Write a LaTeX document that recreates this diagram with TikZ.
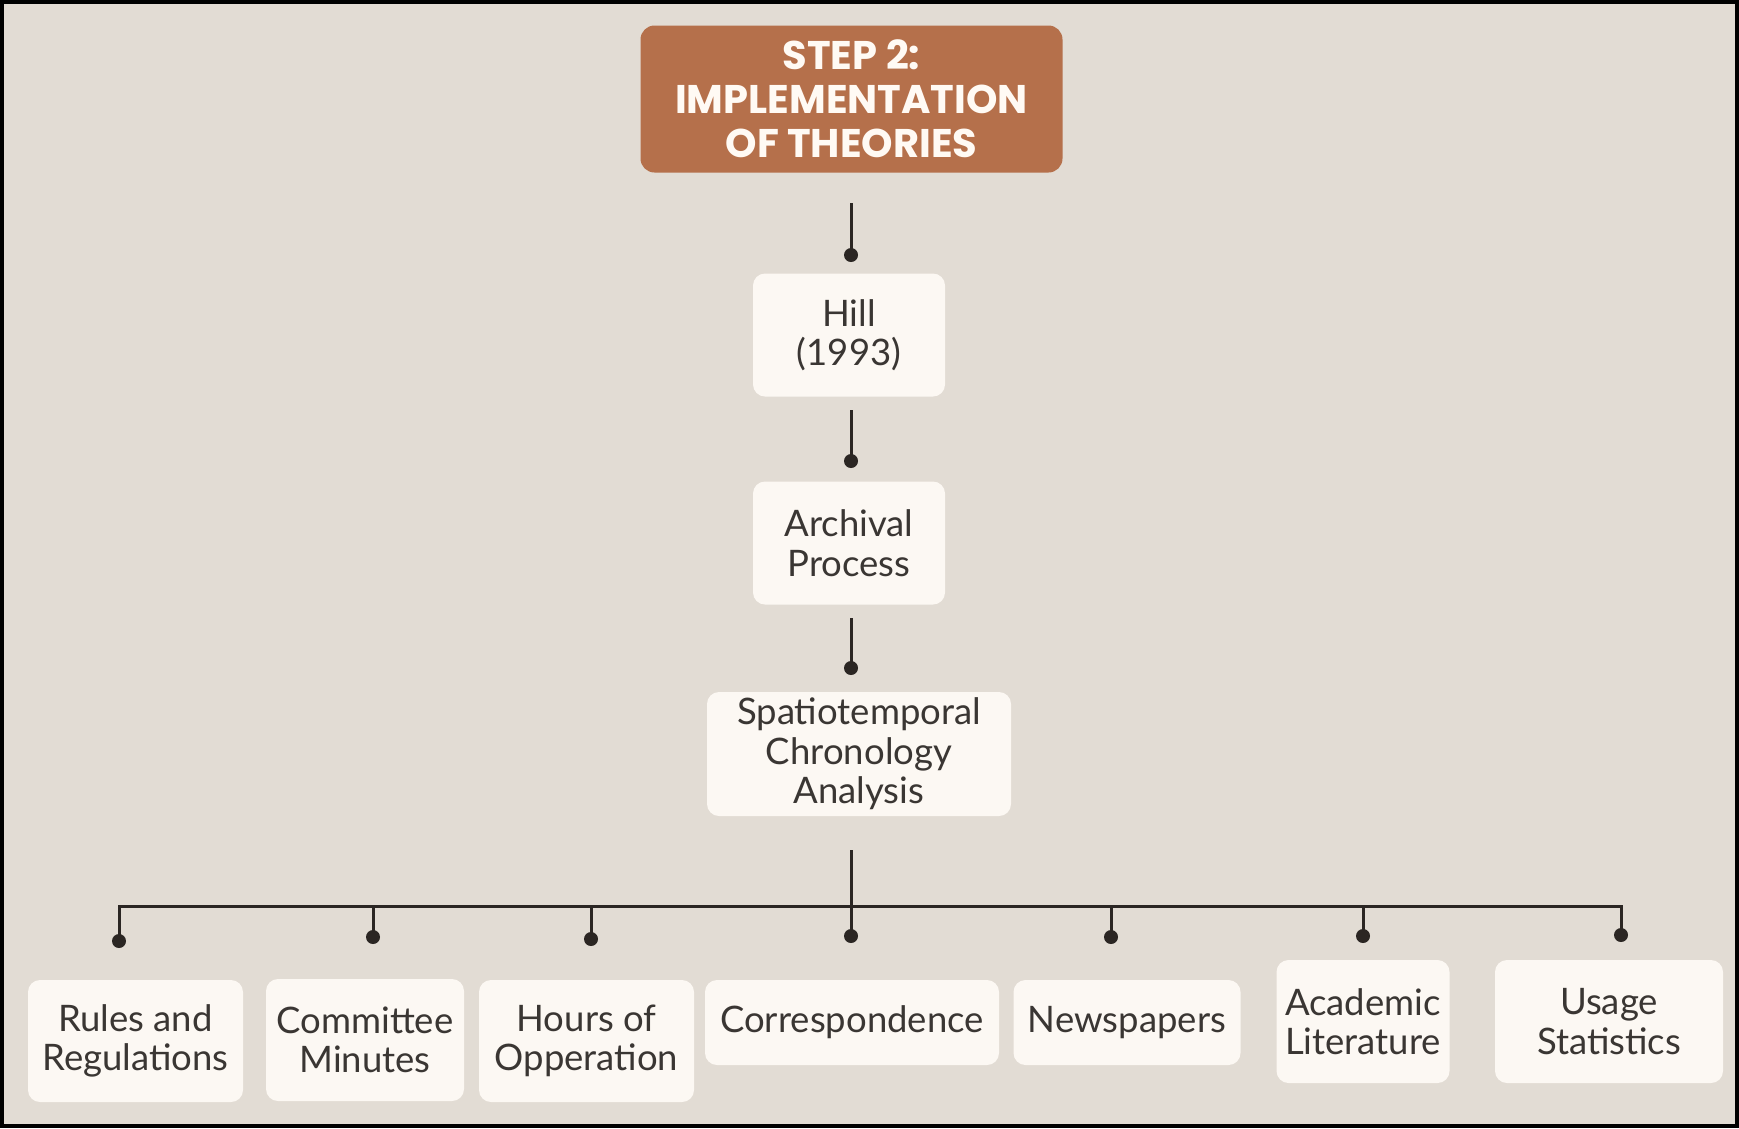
\documentclass[tikz,border=0pt]{standalone}
\usepackage{fontspec}
\newfontfamily\bodyfont{Lato}
\newfontfamily\titlefont{Poppins}

\definecolor{paper}{RGB}{226,220,212}
\definecolor{cardfill}{RGB}{252,248,243}
\definecolor{rust}{RGB}{181,112,75}
\definecolor{ink}{RGB}{43,38,35}
\definecolor{txt}{RGB}{58,54,51}
\definecolor{headtxt}{RGB}{255,250,244}

\tikzset{
  card/.style={rectangle, rounded corners=12pt, fill=cardfill, text=txt,
    font=\bodyfont\fontsize{36.5}{39.5}\selectfont, align=center, inner sep=0pt},
  head/.style={rectangle, rounded corners=14pt, fill=rust, text=headtxt,
    font=\titlefont\bfseries\fontsize{40}{44}\selectfont, align=center, inner sep=0pt},
  wire/.style={draw=ink, line width=3pt},
  pin/.style={circle, fill=ink, inner sep=0pt, minimum size=14pt}
}

\begin{document}
\begin{tikzpicture}[x=1pt, y=-1pt]
  % page background and frame
  \fill[paper] (0,0) rectangle (1739,1128);
  \draw[line width=4pt, black] (2,2) rectangle (1737,1126);
  \useasboundingbox (0,0) rectangle (1739,1128);

  % heading
  \node[head, minimum width=422pt, minimum height=147pt] (title) at (851.5,99)
    {STEP 2:\\IMPLEMENTATION\\OF THEORIES};

  % central chain
  \node[card, minimum width=192pt, minimum height=123pt] (hill) at (849,335) {Hill\\(1993)};
  \node[card, minimum width=192pt, minimum height=123pt] (arch) at (849,543) {Archival\\Process};
  \node[card, minimum width=304pt, minimum height=124pt] (spat) at (859,754)
    {Spatiotemporal\\Chronology\\Analysis};

  % sources
  \node[card, minimum width=215pt, minimum height=122pt] (rules) at (135.5,1041) {Rules and\\Regulations};
  \node[card, minimum width=198pt, minimum height=122pt] (comm)  at (365,1040) {Committee\\Minutes};
  \node[card, minimum width=215pt, minimum height=122pt] (hours) at (586.5,1041) {Hours of\\Opperation};
  \node[card, minimum width=294pt, minimum height=85pt]  (corr)  at (852,1022.5) {Correspondence};
  \node[card, minimum width=227pt, minimum height=85pt]  (news)  at (1127,1022.5) {Newspapers};
  \node[card, minimum width=173pt, minimum height=123pt] (acad)  at (1363,1021.5) {Academic\\Literature};
  \node[card, minimum width=228pt, minimum height=123pt] (usage) at (1609,1021.5) {Usage\\Statistics};

  % connector start points and pins
  \coordinate (s1) at (851,203);
  \coordinate (s2) at (851,410);
  \coordinate (s3) at (851,618);
  \coordinate (hub) at (851,850);
  \coordinate (busY) at (851,906);
  \node[pin] (p1) at (851,255) {};
  \node[pin] (p2) at (851,461) {};
  \node[pin] (p3) at (851,668) {};
  \node[pin] (pR) at (119,941) {};
  \node[pin] (pM) at (373,937) {};
  \node[pin] (pH) at (591,939) {};
  \node[pin] (pC) at (851,936) {};
  \node[pin] (pN) at (1111,937) {};
  \node[pin] (pA) at (1363,936) {};
  \node[pin] (pU) at (1621,935) {};

  % connectors
  \draw[wire] (s1) -- (p1.center);
  \draw[wire] (s2) -- (p2.center);
  \draw[wire] (s3) -- (p3.center);
  \draw[wire] (hub) -- (pC.center);
  \draw[wire] (pR.center) -- (pR.center |- busY) -- (pU.center |- busY) -- (pU.center);
  \draw[wire] (pM.center |- busY) -- (pM.center);
  \draw[wire] (pH.center |- busY) -- (pH.center);
  \draw[wire] (pN.center |- busY) -- (pN.center);
  \draw[wire] (pA.center |- busY) -- (pA.center);
\end{tikzpicture}
\end{document}
